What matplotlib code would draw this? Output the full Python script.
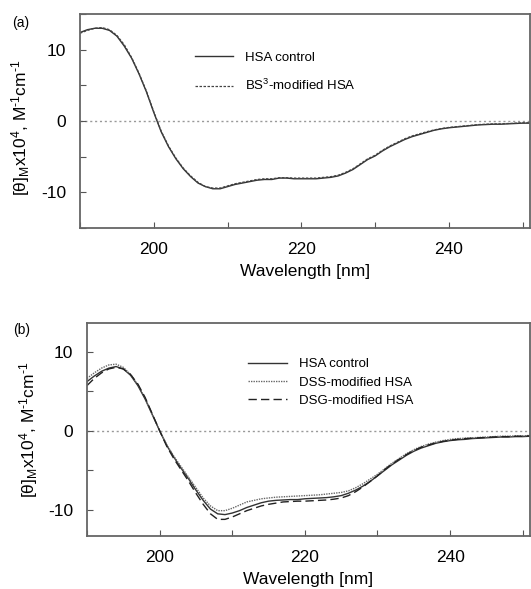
import numpy as np
import matplotlib.pyplot as plt
from matplotlib.ticker import MultipleLocator

plt.rcParams['font.family'] = ['Liberation Sans', 'DejaVu Sans']
plt.rcParams['mathtext.fontset'] = 'custom'
plt.rcParams['mathtext.rm'] = 'Liberation Sans'
plt.rcParams['mathtext.default'] = 'regular'
plt.rcParams['axes.unicode_minus'] = False

# wavelength grid (nm), shared by all spectra
wl = list(range(190, 252))

# panel (a)
hsa_a = [12.4, 12.8, 13.0, 13.0, 12.7, 11.9, 10.5, 8.8, 6.6, 4.1,
         1.2, -1.5, -3.6, -5.3, -6.7, -7.8, -8.7, -9.2, -9.5, -9.5,
         -9.2, -8.9, -8.7, -8.5, -8.3, -8.2, -8.2, -8.0, -8.0, -8.1,
         -8.1, -8.1, -8.1, -8.0, -7.9, -7.7, -7.3, -6.8, -6.1, -5.4,
         -4.9, -4.2, -3.6, -3.1, -2.6, -2.2, -1.9, -1.6, -1.3, -1.1,
         -0.95, -0.85, -0.75, -0.65, -0.55, -0.5, -0.45, -0.45, -0.4, -0.35,
         -0.3, -0.3]
bs3_a = [12.3, 12.7, 13.0, 13.1, 12.8, 12.0, 10.7, 8.9, 6.7, 4.2,
         1.3, -1.4, -3.5, -5.2, -6.6, -7.7, -8.6, -9.2, -9.4, -9.4,
         -9.1, -8.8, -8.6, -8.4, -8.2, -8.1, -8.1, -7.95, -7.95, -8.0,
         -8.0, -8.0, -8.0, -7.9, -7.8, -7.6, -7.2, -6.7, -6.0, -5.3,
         -4.8, -4.1, -3.5, -3.0, -2.5, -2.1, -1.8, -1.5, -1.25, -1.05,
         -0.9, -0.8, -0.7, -0.6, -0.5, -0.45, -0.4, -0.4, -0.35, -0.3,
         -0.25, -0.25]

# panel (b)
hsa_b = [6.2, 6.9, 7.5, 7.9, 8.1, 7.8, 7.0, 5.7, 4.0, 2.0,
         0.0, -1.9, -3.4, -4.8, -6.1, -7.5, -8.8, -9.9, -10.5, -10.6,
         -10.4, -10.1, -9.7, -9.4, -9.1, -8.9, -8.8, -8.75, -8.7, -8.7,
         -8.6, -8.55, -8.5, -8.45, -8.35, -8.2, -7.9, -7.5, -7.0, -6.4,
         -5.7, -5.0, -4.3, -3.7, -3.1, -2.6, -2.2, -1.9, -1.6, -1.4,
         -1.25, -1.15, -1.1, -1.0, -0.95, -0.9, -0.85, -0.8, -0.8, -0.75,
         -0.75, -0.7]
dss_b = [6.6, 7.3, 7.9, 8.3, 8.4, 8.0, 7.1, 5.8, 4.1, 2.0,
         0.0, -1.8, -3.3, -4.6, -5.9, -7.2, -8.5, -9.5, -10.1, -10.1,
         -9.8, -9.4, -9.0, -8.8, -8.6, -8.5, -8.4, -8.35, -8.3, -8.25,
         -8.2, -8.15, -8.1, -8.0, -7.9, -7.8, -7.6, -7.2, -6.7, -6.1,
         -5.5, -4.8, -4.1, -3.5, -2.9, -2.4, -2.0, -1.7, -1.45, -1.25,
         -1.1, -1.0, -0.95, -0.9, -0.85, -0.8, -0.75, -0.7, -0.7, -0.65,
         -0.65, -0.6]
dsg_b = [5.7, 6.6, 7.3, 7.8, 8.0, 7.8, 7.1, 5.9, 4.2, 2.1,
         0.0, -2.0, -3.6, -5.0, -6.4, -7.9, -9.3, -10.5, -11.2, -11.2,
         -10.9, -10.5, -10.1, -9.8, -9.5, -9.3, -9.15, -9.0, -8.95, -8.9,
         -8.9, -8.85, -8.8, -8.75, -8.65, -8.5, -8.2, -7.7, -7.1, -6.4,
         -5.7, -4.9, -4.2, -3.6, -3.0, -2.5, -2.1, -1.8, -1.55, -1.35,
         -1.2, -1.1, -1.0, -0.95, -0.9, -0.85, -0.8, -0.75, -0.75, -0.7,
         -0.7, -0.65]

ylab = r'[θ]$_{M}$x10$^{4}$, M$^{\mathrm{\text{-}}1}$cm$^{\mathrm{\text{-}}1}$'

fig = plt.figure(figsize=(5.31, 5.89), dpi=100)
ax1 = fig.add_axes([80/531, 1-228/589, 450/531, 214/589])
ax2 = fig.add_axes([87/531, 1-536/589, 443/531, 213/589])


def style(ax, ylim):
    ax.set_xlim(190, 251)
    ax.set_ylim(*ylim)
    ax.axhline(0, color='#999999', lw=1.0, ls=(0, (1.5, 2)), zorder=1)
    ax.xaxis.set_major_locator(MultipleLocator(20))
    ax.xaxis.set_minor_locator(MultipleLocator(10))
    ax.yaxis.set_major_locator(MultipleLocator(10))
    ax.yaxis.set_minor_locator(MultipleLocator(5))
    ax.tick_params(which='both', direction='in', length=4, width=0.8,
                   color='#555555', labelsize=12.5)
    ax.tick_params(axis='x', pad=10)
    ax.tick_params(axis='y', pad=10)
    for s in ax.spines.values():
        s.set_color('#666666')
        s.set_linewidth(1.3)
    ax.set_xlabel('Wavelength [nm]', fontsize=12.5, labelpad=5)


style(ax1, (-15, 15))
ax1.plot(wl, hsa_a, color='#333333', lw=1.0, label='HSA control')
ax1.plot(wl, bs3_a, color='#444444', lw=0.9, ls=(0, (2, 1.2)),
         label='BS$^{3}$-modified HSA')
ax1.legend(loc='upper left', bbox_to_anchor=(0.256, 0.825), frameon=False,
           fontsize=9.5, borderpad=0, borderaxespad=0, handlelength=2.9,
           handletextpad=0.85, labelspacing=1.1)

style(ax2, (-13.3, 13.6))
ax2.plot(wl, hsa_b, color='#333333', lw=1.0, label='HSA control')
ax2.plot(wl, dss_b, color='#666666', lw=1.0, ls=(0, (1, 0.8)),
         label='DSS-modified HSA')
ax2.plot(wl, dsg_b, color='#222222', lw=1.0, ls=(0, (6, 3)),
         label='DSG-modified HSA')
ax2.legend(loc='upper left', bbox_to_anchor=(0.363, 0.835), frameon=False,
           fontsize=9.5, borderpad=0, borderaxespad=0, handlelength=3.0,
           handletextpad=0.85, labelspacing=0.45)

fig.text(12/531, 1-23/589, '(a)', fontsize=10, va='center', ha='left')
fig.text(13/531, 1-330/589, '(b)', fontsize=10, va='center', ha='left')
fig.text(21/531, 1-128/589, ylab, rotation=90, fontsize=12.5,
         va='center', ha='center')
fig.text(29/531, 1-430/589, ylab, rotation=90, fontsize=12.5,
         va='center', ha='center')

fig.savefig('out.png', dpi=100)
